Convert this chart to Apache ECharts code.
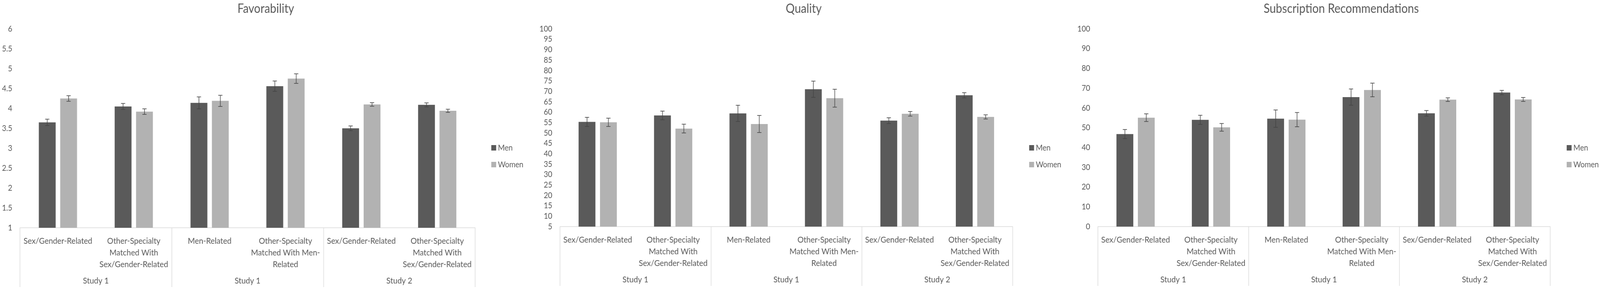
<!DOCTYPE html>
<html>
<head>
<meta charset="utf-8">
<title>Favorability, Quality, Subscription Recommendations</title>
<script src="https://cdn.jsdelivr.net/npm/echarts@6/dist/echarts.min.js"></script>
<style>
  html, body { margin: 0; padding: 0; background: #fff; overflow: hidden; }
  #chart { width: 4563px; height: 741px; transform-origin: 0 0; }
</style>
</head>
<body>
<div id="chart"></div>
<script>
// categories along the x axis, and the study each pair of them belongs to
const categories = [
  'Sex/Gender-Related',
  'Other-Specialty\nMatched With\nSex/Gender-Related',
  'Men-Related',
  'Other-Specialty\nMatched With Men-\nRelated',
  'Sex/Gender-Related',
  'Other-Specialty\nMatched With\nSex/Gender-Related'
];
const studies = ['Study 1', 'Study 1', 'Study 2'];

// Favorability
const favMen = [3.65, 4.05, 4.14, 4.56, 3.50, 4.09];
const favMenErr = [0.08, 0.075, 0.15, 0.13, 0.06, 0.05];
const favWomen = [4.25, 3.92, 4.19, 4.75, 4.10, 3.94];
const favWomenErr = [0.07, 0.07, 0.14, 0.12, 0.045, 0.04];

// Quality
const qualMen = [55.3, 58.4, 59.4, 71.0, 55.9, 68.1];
const qualMenErr = [2.2, 2.1, 3.9, 3.9, 1.4, 1.25];
const qualWomen = [55.1, 52.1, 54.3, 66.7, 59.2, 57.7];
const qualWomenErr = [2.0, 2.1, 4.1, 4.3, 1.1, 1.0];

// Subscription Recommendations
const subMen = [46.8, 54.0, 54.6, 65.5, 57.3, 67.8];
const subMenErr = [2.3, 2.3, 4.4, 4.1, 1.4, 1.1];
const subWomen = [55.1, 50.2, 54.1, 69.1, 64.2, 64.3];
const subWomenErr = [1.95, 1.95, 3.6, 3.45, 0.93, 1.0];

const TEXT = '#595959';
const LINE = '#d9d9d9';
const MEN = '#5a5a5a';
const WOMEN = '#b2b2b2';
const FONT = 'Lato';

// the chart is laid out at 4563 x 741; if the window is smaller it gets squeezed to fit
const dom = document.getElementById('chart');
const sx = (window.innerWidth || 4563) / 4563;
const sy = (window.innerHeight || 741) / 741;
dom.style.transform = 'scale(' + sx + ',' + sy + ')';

const BAR_W = 48;
const BAR_GAP = 13;
const half = (BAR_W + BAR_GAP) / 2;

const panels = [
  { title: 'Favorability', titleX: 753, left: 57, width: 1298, height: 510,
    min: 1, max: 6, interval: 0.5, legendX: 1396,
    men: favMen, menErr: favMenErr, women: favWomen, womenErr: favWomenErr },
  { title: 'Quality', titleX: 2287, left: 1597, width: 1291, height: 507,
    min: 5, max: 100, interval: 5, legendX: 2930,
    men: qualMen, menErr: qualMenErr, women: qualWomen, womenErr: qualWomenErr },
  { title: 'Subscription Recommendations', titleX: 3820, left: 3131, width: 1290, height: 507,
    min: 0, max: 100, interval: 10, legendX: 4463,
    men: subMen, menErr: subMenErr, women: subWomen, womenErr: subWomenErr }
];

// error bar drawn on top of a bar, shifted to the bar's centre
function errorBar(offset) {
  return function (params, api) {
    const idx = api.value(0);
    const v = api.value(1);
    const e = api.value(2);
    const x = api.coord([idx, v])[0] + offset;
    const yTop = api.coord([idx, v + e])[1];
    const yBot = api.coord([idx, v - e])[1];
    const style = { stroke: '#454545', lineWidth: 1.6 };
    return {
      type: 'group',
      children: [
        { type: 'line', shape: { x1: x, y1: yTop, x2: x, y2: yBot }, style: style },
        { type: 'line', shape: { x1: x - 6, y1: yTop, x2: x + 6, y2: yTop }, style: style },
        { type: 'line', shape: { x1: x - 6, y1: yBot, x2: x + 6, y2: yBot }, style: style }
      ]
    };
  };
}

const option = {
  backgroundColor: '#fff',
  animation: false,
  textStyle: { fontFamily: FONT, color: TEXT },
  title: [], grid: [], xAxis: [], yAxis: [], legend: [], series: []
};

panels.forEach((p, i) => {
  option.title.push({
    text: p.title, left: p.titleX, top: 2, textAlign: 'center',
    textStyle: { fontFamily: FONT, fontSize: 32, fontWeight: 'normal', color: TEXT }
  });
  option.grid.push({ left: p.left, top: 74, width: p.width, height: p.height, containLabel: false });

  // lower level: categories
  option.xAxis.push({
    type: 'category', gridIndex: i, data: categories,
    axisLine: { show: true, lineStyle: { color: LINE, width: 1.5 } },
    axisTick: { show: false },
    axisLabel: { interval: 0, margin: 19, fontSize: 22, lineHeight: 30, color: TEXT, fontFamily: FONT, align: 'center' }
  });
  // upper level: studies, with the box separators as long ticks
  option.xAxis.push({
    type: 'category', gridIndex: i, data: studies.map((s, k) => String(k)),
    position: 'bottom',
    axisLine: { show: false },
    axisTick: { show: true, length: 152, lineStyle: { color: LINE, width: 1.5 } },
    axisLabel: { interval: 0, margin: 125, fontSize: 22, color: TEXT, fontFamily: FONT,
      formatter: (v, k) => studies[k] }
  });
  option.yAxis.push({
    type: 'value', gridIndex: i, min: p.min, max: p.max, interval: p.interval,
    axisLine: { show: false }, axisTick: { show: false }, splitLine: { show: false },
    axisLabel: { margin: 22, fontSize: 21, color: TEXT, fontFamily: FONT }
  });
  option.legend.push({
    left: p.legendX, top: 363, orient: 'vertical', itemGap: 21,
    itemWidth: 14, itemHeight: 14, icon: 'rect',
    textStyle: { fontSize: 21, lineHeight: 22, color: TEXT, fontFamily: FONT },
    data: ['Men', 'Women']
  });

  const xi = i * 2;
  option.series.push(
    { name: 'Men', type: 'bar', xAxisIndex: xi, yAxisIndex: i, data: p.men,
      barWidth: BAR_W, barGap: (BAR_GAP / BAR_W * 100) + '%', itemStyle: { color: MEN } },
    { name: 'Women', type: 'bar', xAxisIndex: xi, yAxisIndex: i, data: p.women,
      barWidth: BAR_W, itemStyle: { color: WOMEN } },
    { type: 'custom', xAxisIndex: xi, yAxisIndex: i, z: 5,
      renderItem: errorBar(-half), encode: { x: 0, y: 1 },
      data: p.men.map((v, k) => [k, v, p.menErr[k]]) },
    { type: 'custom', xAxisIndex: xi, yAxisIndex: i, z: 5,
      renderItem: errorBar(half), encode: { x: 0, y: 1 },
      data: p.women.map((v, k) => [k, v, p.womenErr[k]]) }
  );
});

const chart = echarts.init(dom, null, { renderer: 'canvas', width: 4563, height: 741 });
chart.setOption(option);
</script>
</body>
</html>
